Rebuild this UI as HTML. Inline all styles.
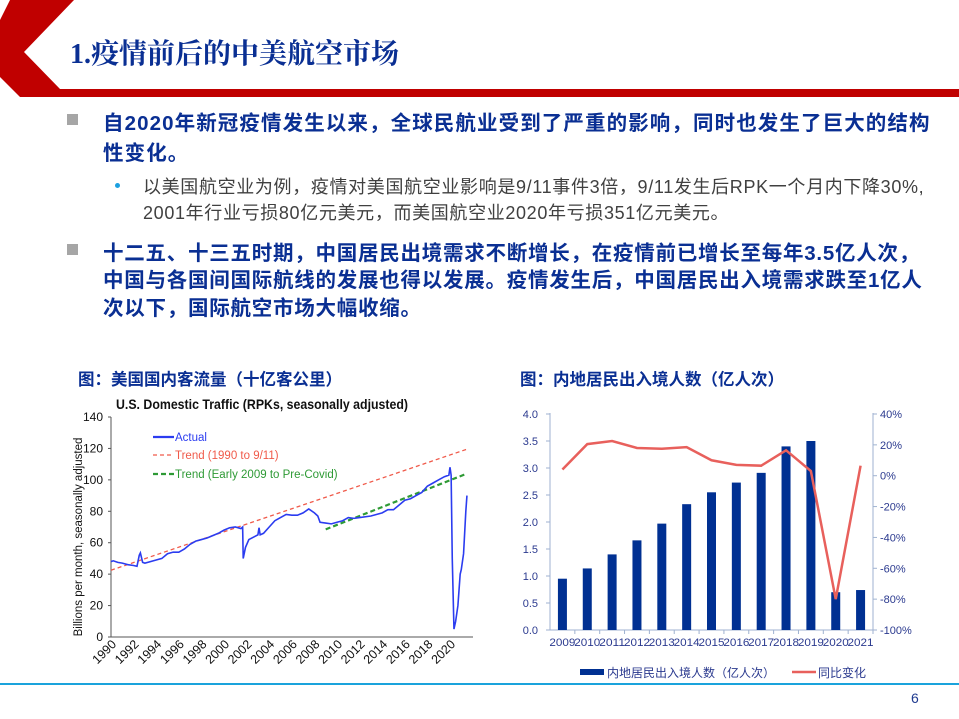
<!DOCTYPE html>
<html><head><meta charset="utf-8">
<style>
body{margin:0;width:959px;height:719px;overflow:hidden;background:#fff;position:relative;font-family:"Liberation Sans","Noto Sans CJK SC",sans-serif;}
.a{position:absolute;white-space:nowrap;}
.b1{color:#0a2f93;font-weight:bold;font-size:20.5px;}
.sq{position:absolute;width:11px;height:11px;background:#a6a6a6;}
.sub{color:#404040;font-size:18px;letter-spacing:0.65px;}
.ct{color:#0a2f93;font-weight:bold;font-size:16.5px;}
svg text{font-family:"Liberation Sans","Noto Sans CJK SC",sans-serif;}
</style></head><body>
<svg class="a" style="left:0;top:0" width="959" height="100">
<polygon points="10,0 74,0 24,52 60,89 959,89 959,97 20,97 0,77 0,20" fill="#c00000"/>
</svg>
<div class="a" style="left:70px;top:32px;font-size:28px;font-weight:bold;color:#0a2f93;font-family:'Liberation Serif','Noto Serif CJK SC',serif;">1.疫情前后的中美航空市场</div>

<div class="sq" style="left:67px;top:114px"></div>
<div class="a b1" style="left:103px;top:106px;letter-spacing:1.1px">自2020年新冠疫情发生以来，全球民航业受到了严重的影响，同时也发生了巨大的结构</div>
<div class="a b1" style="left:103px;top:136px;letter-spacing:1.1px">性变化。</div>
<div class="a" style="left:115px;top:183px;width:5px;height:5px;border-radius:50%;background:#1ca0e0"></div>
<div class="a sub" style="left:143px;top:173px">以美国航空业为例，疫情对美国航空业影响是9/11事件3倍，9/11发生后RPK一个月内下降30%,</div>
<div class="a sub" style="left:143px;top:199px">2001年行业亏损80亿元美元，而美国航空业2020年亏损351亿元美元。</div>
<div class="sq" style="left:67px;top:244px"></div>
<div class="a b1" style="left:103px;top:236px;letter-spacing:0.75px">十二五、十三五时期，中国居民出境需求不断增长，在疫情前已增长至每年3.5亿人次，</div>
<div class="a b1" style="left:103px;top:263px;letter-spacing:0.75px">中国与各国间国际航线的发展也得以发展。疫情发生后，中国居民出入境需求跌至1亿人</div>
<div class="a b1" style="left:103px;top:291px;letter-spacing:0.75px">次以下，国际航空市场大幅收缩。</div>

<div class="a ct" style="left:78px;top:366px">图：美国国内客流量（十亿客公里）</div>
<div class="a ct" style="left:520px;top:366px">图：内地居民出入境人数（亿人次）</div>

<svg id="lc" class="a" style="left:0;top:0" width="480" height="690"></svg>
<svg id="rc" class="a" style="left:0;top:0" width="959" height="690"></svg>

<div class="a" style="left:0;top:683px;width:959px;height:2px;background:#1aa3dc"></div>
<div class="a" style="left:911px;top:690px;font-size:14px;color:#1f3a8f">6</div>

<script>
const usYears=[1990,1990.2,1990.6,1991,1991.5,1992,1992.3,1992.5,1992.6,1992.8,1993,1994,1994.5,1995,1995.5,1996,1996.5,1997,1997.5,1998,1998.5,1999,1999.5,2000,2000.5,2001,2001.5,2001.65,2001.7,2001.9,2002.2,2003,2003.1,2003.2,2003.5,2004,2004.5,2005,2005.5,2006,2006.5,2007,2007.5,2008,2008.3,2008.5,2009,2009.5,2010,2010.5,2011,2011.5,2012,2013,2014,2014.5,2015,2015.5,2016,2016.5,2017,2017.5,2018,2018.5,2019,2019.5,2019.9,2020,2020.1,2020.2,2020.35,2020.5,2020.7,2020.9,2021,2021.2,2021.4,2021.5];
const usActual=[48,48.5,47.5,47,46,45.5,45,52,53.5,47.5,47,49,50,53,54,54,56,59,61,62,63,64.5,66,68,69.5,70,69,70,50,57,62,65,69.5,65,66,70,74,76,78,77.5,77.5,79,81.5,79,77,73,72.5,72,73,74,76,75.5,76,77,79,81,81,84,87,88,90,92,96,98,100,102,103,108,103,50,5,10,20,40,43,53,80,90];
const trendRedYears=[1990,2021.5], trendRedVals=[42.5,119.5];
const trendGreenYears=[2009,2021.5], trendGreenVals=[68.5,104];
const usYTicks=[0,20,40,60,80,100,120,140];
const usXTicks=[1990,1992,1994,1996,1998,2000,2002,2004,2006,2008,2010,2012,2014,2016,2018,2020];

const cnYears=['2009','2010','2011','2012','2013','2014','2015','2016','2017','2018','2019','2020','2021'];
const cnTrips=[0.95,1.14,1.40,1.66,1.97,2.33,2.55,2.73,2.91,3.40,3.50,0.70,0.74];
const cnYoY=[4,20.5,22.5,18,17.5,18.5,10,7,6.5,16.5,3,-80,6.5];
const cnLeftTicks=['0.0','0.5','1.0','1.5','2.0','2.5','3.0','3.5','4.0'];
const cnRightTicks=[-100,-80,-60,-40,-20,0,20,40];

const NS='http://www.w3.org/2000/svg';
function mk(p,t,at,txt){const e=document.createElementNS(NS,t);for(const k in at)e.setAttribute(k,at[k]);if(txt!==undefined)e.textContent=txt;p.appendChild(e);return e;}

// left chart
const lc=document.getElementById('lc');
const lx=y=>111+(y-1990)*11.3, ly=v=>637-v*220/140;
let e;
e=mk(lc,'text',{x:262,y:409,'text-anchor':'middle','font-size':14,'font-weight':'bold',fill:'#111',textLength:292,lengthAdjust:'spacingAndGlyphs'},'U.S. Domestic Traffic (RPKs, seasonally adjusted)');

e=mk(lc,'line',{x1:111,y1:417,x2:111,y2:637,stroke:'#555'});

e=mk(lc,'line',{x1:111,y1:637,x2:473,y2:637,stroke:'#555'});

usYTicks.forEach(v=>{
 e=mk(lc,'text',{x:103,y:ly(v)+4,'text-anchor':'end','font-size':12,fill:'#111'},v);
 
 mk(lc,'line',{x1:108,y1:ly(v),x2:111,y2:ly(v),stroke:'#555'});
});
usXTicks.forEach(y=>{
 e=mk(lc,'text',{x:lx(y)+6,y:645,'text-anchor':'end','font-size':12.5,fill:'#111',transform:`rotate(-45 ${lx(y)+6} 645)`},y);
 
});
e=mk(lc,'text',{x:0,y:0,'text-anchor':'middle','font-size':11.5,fill:'#111',transform:'translate(82,537) rotate(-90)'},'Billions per month, seasonally adjusted');

e=mk(lc,'line',{x1:lx(trendRedYears[0]),y1:ly(trendRedVals[0]),x2:lx(trendRedYears[1]),y2:ly(trendRedVals[1]),stroke:'#f05a4a','stroke-width':1.3,'stroke-dasharray':'4,3'});

e=mk(lc,'line',{x1:lx(trendGreenYears[0]),y1:ly(trendGreenVals[0]),x2:lx(trendGreenYears[1]),y2:ly(trendGreenVals[1]),stroke:'#2e9a35','stroke-width':2.2,'stroke-dasharray':'5,3'});

e=mk(lc,'polyline',{points:usYears.map((y,i)=>lx(y)+','+ly(usActual[i])).join(' '),fill:'none',stroke:'#2b3cf0','stroke-width':1.6});

[['Actual','#2b3cf0',437,'',2.2],['Trend (1990 to 9/11)','#f05a4a',455,'4,3',1.3],['Trend (Early 2009 to Pre-Covid)','#2e9a35',474,'5,3',2.2]].forEach(l=>{
 e=mk(lc,'line',{x1:153,y1:l[2],x2:174,y2:l[2],stroke:l[1],'stroke-width':l[4],'stroke-dasharray':l[3]});
 
 e=mk(lc,'text',{x:175,y:l[2]+4,'font-size':11.5,fill:l[1]},l[0]);
 
});

// right chart
const rc=document.getElementById('rc');
const x0=550,x1=873,bw=(x1-x0)/13;
const ry=v=>630-v*216/4, ry2=p=>630-(p+100)*216/140;
const tc='#2b3a8f';
e=mk(rc,'line',{x1:x0,y1:413,x2:x0,y2:630,stroke:'#9fb2d0'});

e=mk(rc,'line',{x1:x1,y1:413,x2:x1,y2:630,stroke:'#9fb2d0'});

e=mk(rc,'line',{x1:x0,y1:630,x2:x1,y2:630,stroke:'#9fb2d0'});

cnLeftTicks.forEach(t=>{const v=parseFloat(t);
 mk(rc,'line',{x1:x0-4,y1:ry(v),x2:x0,y2:ry(v),stroke:'#9fb2d0'});
 e=mk(rc,'text',{x:538,y:ry(v)+4,'text-anchor':'end','font-size':11,fill:tc},t);
 
});
cnRightTicks.forEach(p=>{
 mk(rc,'line',{x1:x1,y1:ry2(p),x2:x1+4,y2:ry2(p),stroke:'#9fb2d0'});
 e=mk(rc,'text',{x:880,y:ry2(p)+4,'font-size':11,fill:tc},p+'%');
 
});
cnYears.forEach((y,i)=>{
 const cx=x0+bw*(i+0.5);
 mk(rc,'line',{x1:x0+bw*(i+1),y1:630,x2:x0+bw*(i+1),y2:634,stroke:'#9fb2d0'});
 e=mk(rc,'rect',{x:cx-4.5,y:ry(cnTrips[i]),width:9,height:630-ry(cnTrips[i]),fill:'#003092'});
 
 e=mk(rc,'text',{x:cx,y:646,'text-anchor':'middle','font-size':11,fill:tc,textLength:26,lengthAdjust:'spacingAndGlyphs'},y);
 
});
e=mk(rc,'polyline',{points:cnYoY.map((p,i)=>(x0+bw*(i+0.5))+','+ry2(p)).join(' '),fill:'none',stroke:'#e8605c','stroke-width':2.5});

e=mk(rc,'rect',{x:580,y:669,width:24,height:6,fill:'#003092'});

e=mk(rc,'text',{x:607,y:677,'font-size':12,fill:tc},'内地居民出入境人数（亿人次）');

e=mk(rc,'line',{x1:792,y1:672,x2:816,y2:672,stroke:'#e8605c','stroke-width':2.5});

e=mk(rc,'text',{x:818,y:677,'font-size':12,fill:tc},'同比变化');

</script>
</body></html>
